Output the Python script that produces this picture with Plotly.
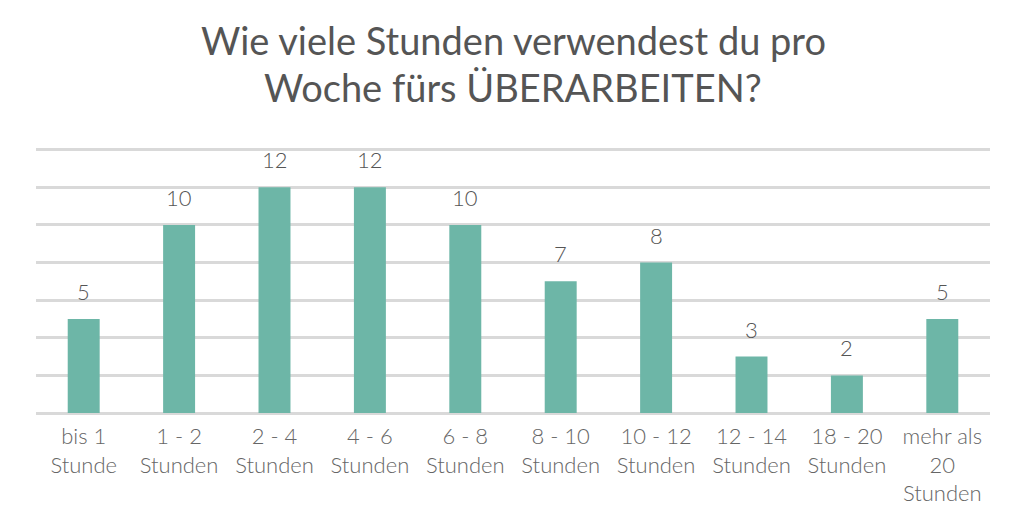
import plotly.graph_objects as go

categories = ["bis 1<br>Stunde", "1 - 2<br>Stunden", "2 - 4<br>Stunden", "4 - 6<br>Stunden",
              "6 - 8<br>Stunden", "8 - 10<br>Stunden", "10 - 12<br>Stunden", "12 - 14<br>Stunden",
              "18 - 20<br>Stunden", "mehr als<br>20<br>Stunden"]
values = [5, 10, 12, 12, 10, 7, 8, 3, 2, 5]
y_ticks = [0, 2, 4, 6, 8, 10, 12, 14]
title_lines = ["Wie viele Stunden verwendest du pro", "Woche fürs ÜBERARBEITEN?"]

fig = go.Figure(go.Bar(
    x=categories, y=values,
    marker=dict(color="#6db6a7", line=dict(width=0)),
    hoverinfo="x+y",
))

for c, v in zip(categories, values):
    fig.add_annotation(x=c, y=v, text=str(v), showarrow=False, yanchor="bottom", yshift=12,
                       font=dict(family="Lato", size=22, color="#555555", weight=300))

for line, py in zip(title_lines, [1.3866, 1.2119]):
    fig.add_annotation(text=line, xref="paper", yref="paper", x=0.5, y=py,
                       xanchor="center", yanchor="middle", showarrow=False,
                       font=dict(family="Lato", size=38, color="#555555"))

fig.update_layout(
    width=1024, height=517,
    paper_bgcolor="white", plot_bgcolor="white",
    margin=dict(l=28, r=42, t=136, b=112),
    bargap=0.665,
    showlegend=False,
    xaxis=dict(tickfont=dict(family="Lato", size=22, color="#666666", weight=300),
               showgrid=False, showline=False, ticks="", automargin=False,
               ticklabelstandoff=8),
    yaxis=dict(range=[0, 14.3], tickvals=y_ticks, showticklabels=False, automargin=False,
               showgrid=True, gridcolor="#d9d9d9", gridwidth=2.5,
               zeroline=True, zerolinecolor="#d9d9d9", zerolinewidth=2.5),
)

fig.write_html("out.html")
